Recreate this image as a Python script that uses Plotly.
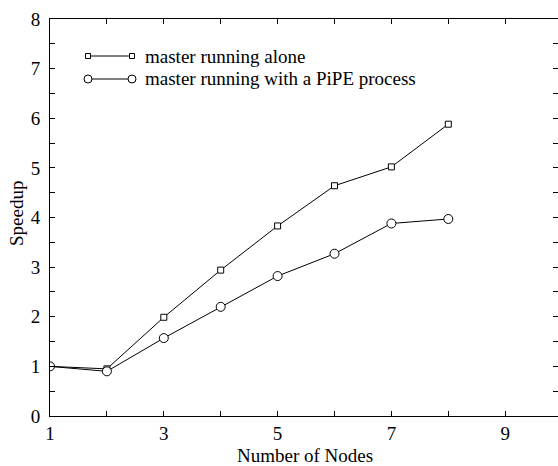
import plotly.graph_objects as go

nodes = [1, 2, 3, 4, 5, 6, 7, 8]
alone = [1.0, 0.95, 1.99, 2.94, 3.83, 4.64, 5.02, 5.88]
with_pipe = [1.0, 0.90, 1.57, 2.20, 2.82, 3.27, 3.88, 3.97]
series_names = ["master running alone", "master running with a PiPE process"]

x_tickvals = list(range(1, 11))
x_ticktext = [str(v) if v % 2 == 1 else "" for v in x_tickvals]
y_tickvals = [i * 0.5 for i in range(17)]
y_ticktext = [str(int(v)) if v == int(v) else "" for v in y_tickvals]

FONT = "Liberation Serif, Times New Roman, serif"
W, H = 558, 466
# plot area in page pixels (body margin removed below)
P_LEFT, P_RIGHT, P_TOP, P_BOTTOM = 50, 558, 19, 416
L, R, T, B = P_LEFT, W - P_RIGHT, P_TOP, H - P_BOTTOM
pw, ph = W - L - R, H - T - B

fig = go.Figure()
fig.add_trace(go.Scatter(
    x=nodes, y=alone, mode="lines+markers", name=series_names[0],
    line=dict(color="black", width=1),
    marker=dict(symbol="square", size=6, color="white", line=dict(color="black", width=1)),
    showlegend=False))
fig.add_trace(go.Scatter(
    x=nodes, y=with_pipe, mode="lines+markers", name=series_names[1],
    line=dict(color="black", width=1),
    marker=dict(symbol="circle", size=9, color="white", line=dict(color="black", width=1)),
    showlegend=False))
# helper trace so right-hand tick axis renders
fig.add_trace(go.Scatter(x=[], y=[], yaxis="y2", showlegend=False))

def px2paper_x(px):
    return (px - P_LEFT) / pw

def px2paper_y(py):
    return (P_BOTTOM - py) / ph

shapes = []
annotations = []
legend_rows = [(56, "square", series_names[0]), (79, "circle", series_names[1])]
x_a, x_b = 88, 132
for py, sym, label in legend_rows:
    yp = px2paper_y(py)
    shapes.append(dict(type="line", xref="paper", yref="paper",
                       x0=px2paper_x(x_a), x1=px2paper_x(x_b), y0=yp, y1=yp,
                       line=dict(color="black", width=1)))
    for px in (x_a, x_b):
        s = 2.5 if sym == "square" else 4
        shapes.append(dict(type="rect" if sym == "square" else "circle",
                           xref="paper", yref="paper",
                           xsizemode="pixel", ysizemode="pixel",
                           xanchor=px2paper_x(px), yanchor=yp,
                           x0=-s, x1=s, y0=-s, y1=s,
                           fillcolor="white", line=dict(color="black", width=1)))
    annotations.append(dict(text=label, xref="paper", yref="paper",
                            x=px2paper_x(143), y=yp, xanchor="left", yanchor="middle",
                            showarrow=False, font=dict(family=FONT, size=19, color="black")))

annotations.append(dict(text="Number of Nodes", xref="paper", yref="paper",
                        x=px2paper_x(305), y=px2paper_y(455), xanchor="center", yanchor="middle",
                        showarrow=False, font=dict(family=FONT, size=19, color="black")))
annotations.append(dict(text="Speedup", xref="paper", yref="paper",
                        x=px2paper_x(17), y=px2paper_y(214), xanchor="center", yanchor="middle",
                        textangle=-90, showarrow=False, borderpad=0,
                        font=dict(family=FONT, size=19, color="black")))

fig.update_layout(
    width=W, height=H,
    margin=dict(l=L, r=R, t=T, b=B, pad=0),
    paper_bgcolor="white", plot_bgcolor="white",
    font=dict(family=FONT, size=19, color="black"),
    hovermode=False,
    xaxis=dict(range=[1, 1 + pw / 56.9], tickvals=x_tickvals, ticktext=x_ticktext,
               ticks="inside", ticklen=5, tickcolor="black", showline=True,
               linecolor="black", linewidth=1, mirror="ticks", showgrid=False,
               zeroline=False),
    yaxis=dict(range=[0, 8], tickvals=y_tickvals, ticktext=y_ticktext,
               ticks="inside", ticklen=5, tickcolor="black", showline=True,
               linecolor="black", linewidth=1, showgrid=False, zeroline=False,
               ticklabelstandoff=5),
    yaxis2=dict(range=[0, 8], tickvals=y_tickvals, overlaying="y", side="right",
                ticks="inside", ticklen=5, tickcolor="black", showline=False,
                showticklabels=False, showgrid=False, zeroline=False),
    shapes=shapes, annotations=annotations,
)

fig.write_html("out.html", config={"displayModeBar": False, "staticPlot": True},
               post_script="document.body.style.margin='0';document.body.style.overflow='hidden';")
